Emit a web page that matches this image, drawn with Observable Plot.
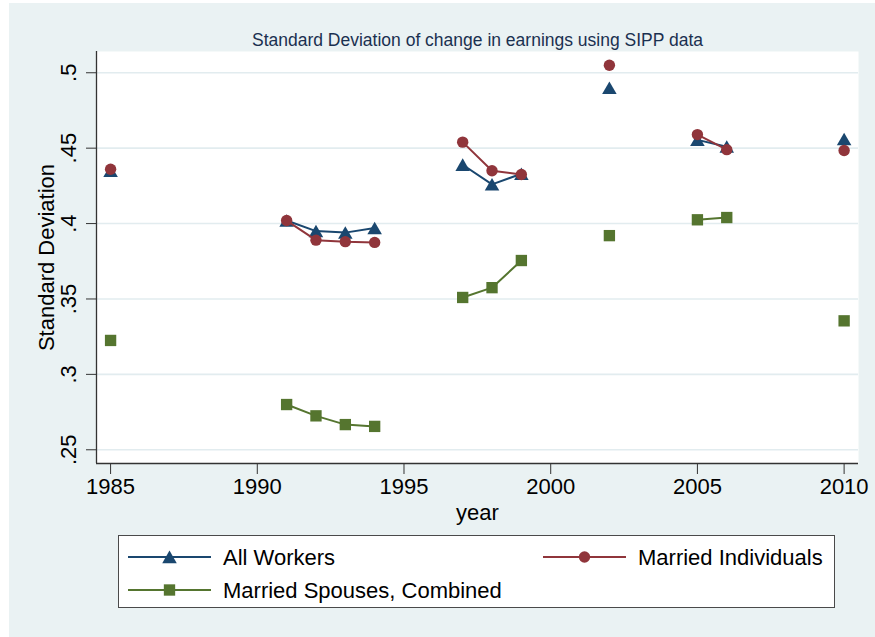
<!DOCTYPE html>
<html><head><meta charset="utf-8">
<script src="https://cdn.jsdelivr.net/npm/d3@7"></script>
<script src="https://cdn.jsdelivr.net/npm/@observablehq/plot@0.6"></script>
<style>
html,body{margin:0;padding:0;background:#fff;}
#wrap{position:relative;width:875px;height:637px;overflow:hidden;font-family:Arial,"Liberation Sans",sans-serif;}
#bg{position:absolute;left:9px;top:3px;right:0;bottom:0;background:#EAF2F3;}
#chart{position:absolute;left:0;top:0;}
#legend{position:absolute;left:118px;top:535px;width:717px;height:73px;background:#fff;border:1px solid #4a4a4a;box-sizing:border-box;}
#legend svg{position:absolute;left:0;top:0;}
</style></head><body>
<div id="wrap"><div id="bg"></div><div id="chart"></div><div id="legend"></div></div>
<script>
const titleText = "Standard Deviation of change in earnings using SIPP data";
const xLabel = "year";
const yLabel = "Standard Deviation";
const seriesNames = ["All Workers", "Married Individuals", "Married Spouses, Combined"];
const seriesColors = ["#1A476F", "#90353B", "#55752F"];
const seriesSymbols = ["triangle", "circle", "square"];
const years = [1985, 1991, 1992, 1993, 1994, 1997, 1998, 1999, 2002, 2005, 2006, 2010];
const allWorkers = [0.435, 0.402, 0.395, 0.394, 0.397, 0.439, 0.426, 0.433, 0.490, 0.4555, 0.451, 0.456];
const marriedIndividuals = [0.436, 0.402, 0.389, 0.388, 0.3875, 0.454, 0.435, 0.4325, 0.505, 0.459, 0.449, 0.4485];
const marriedSpouses = [0.3225, 0.280, 0.2725, 0.2667, 0.2655, 0.351, 0.3575, 0.3755, 0.392, 0.4025, 0.404, 0.3355];
const xTicks = [1985, 1990, 1995, 2000, 2005, 2010];
const yTicks = [0.25, 0.3, 0.35, 0.4, 0.45, 0.5];

const seriesValues = [allWorkers, marriedIndividuals, marriedSpouses];
const rows = [];
seriesNames.forEach((name, s) => {
  let seg = 0;
  years.forEach((yr, i) => {
    if (i > 0 && yr - years[i - 1] > 1) seg++;
    rows.push({series: name, year: yr, value: seriesValues[s][i], seg: name + "-" + seg});
  });
});

const xDomain = [1984.52, 2010.49];
const yDomain = [0.2409, 0.5141];
const sizes = {"triangle": 5.4, "circle": 5.7, "square": 6.4};
const font = "Arial, 'Liberation Sans', sans-serif";

const seriesMarks = [];
seriesNames.forEach((name, s) => {
  const d = rows.filter(r => r.series === name);
  seriesMarks.push(Plot.line(d, {x: "year", y: "value", z: "seg", stroke: seriesColors[s], strokeWidth: 2}));
  seriesMarks.push(Plot.dot(d, {x: "year", y: "value", symbol: () => seriesSymbols[s], fill: seriesColors[s], stroke: "none",
    r: sizes[seriesSymbols[s]], dy: seriesSymbols[s] === "triangle" ? 2 : 0}));
});

const chart = Plot.plot({
  width: 875, height: 530,
  marginTop: 51, marginLeft: 96, marginRight: 17, marginBottom: 67,
  style: {background: "transparent", fontFamily: font, fontSize: "22px", color: "#000", overflow: "visible"},
  x: {domain: xDomain},
  y: {domain: yDomain},
  symbol: {type: "identity"},
  marks: [
    Plot.frame({fill: "white", stroke: null}),
    Plot.gridY(yTicks, {stroke: "#E2ECEF", strokeOpacity: 1, strokeWidth: 1.6}),
    Plot.axisY(yTicks, {tickSize: 10, tickRotate: -90, tickFormat: d => String(d).replace(/^0/, ""), fontSize: 22, tickPadding: 11, label: null, stroke: "#333"}),
    Plot.axisX(xTicks, {tickSize: 11, tickFormat: d => String(d), fontSize: 22, tickPadding: 4, label: null, stroke: "#333"}),
    Plot.ruleX([xDomain[0]], {stroke: "#333", strokeWidth: 1.3}),
    Plot.ruleY([yDomain[0]], {stroke: "#333", strokeWidth: 1.3}),
    ...seriesMarks,
    Plot.text([titleText], {frameAnchor: "top", dy: -11, lineAnchor: "middle", textAnchor: "middle", fontSize: 17.5, fill: "#1a3050"}),
    Plot.text([xLabel], {frameAnchor: "bottom", dy: 49, lineAnchor: "middle", textAnchor: "middle", fontSize: 22, fill: "#000"}),
    Plot.text([yLabel], {frameAnchor: "left", dx: -50, rotate: -90, lineAnchor: "middle", textAnchor: "middle", fontSize: 22, fill: "#000"})
  ]
});
document.getElementById("chart").appendChild(chart);

// legend
const lg = d3.select("#legend").append("svg").attr("width", 717).attr("height", 73);
const pos = [[9, 21], [424, 21], [9, 54]];
seriesNames.forEach((name, s) => {
  const [x0, yc] = pos[s];
  const g = lg.append("g");
  g.append("line").attr("x1", x0).attr("x2", x0 + 83).attr("y1", yc).attr("y2", yc)
    .attr("stroke", seriesColors[s]).attr("stroke-width", 2);
  const symType = seriesSymbols[s] === "triangle" ? d3.symbolTriangle : seriesSymbols[s] === "circle" ? d3.symbolCircle : d3.symbolSquare;
  const r = sizes[seriesSymbols[s]];
  g.append("path").attr("d", d3.symbol(symType, Math.PI * r * r)())
    .attr("transform", `translate(${x0 + 41.5},${yc + (seriesSymbols[s] === "triangle" ? 2 : 0)})`)
    .attr("fill", seriesColors[s]);
  g.append("text").attr("x", x0 + 95).attr("y", yc).attr("dy", "0.36em")
    .attr("font-family", font).attr("font-size", 22).attr("fill", "#000").text(name);
});
</script>
</body></html>
